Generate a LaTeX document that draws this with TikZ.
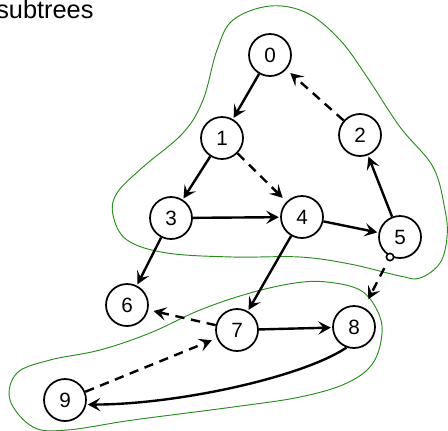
\documentclass[tikz,border=0pt]{standalone}
\usepackage{fontspec}
\setmainfont{Liberation Sans}
\usetikzlibrary{arrows.meta, positioning}

\definecolor{hullgreen}{RGB}{40,140,30}

\begin{document}
\begin{tikzpicture}[
    x=0.75pt, y=-0.75pt,
    vertex/.style={circle, draw, line width=1.3pt, minimum size=31.5pt, inner sep=0pt, fill=white, font=\fontsize{15.5}{18}\selectfont},
    hole/.style={circle, draw, line width=1.2pt, minimum size=5.5pt, inner sep=0pt, fill=white},
    hull/.style={draw=hullgreen, line width=0.7pt},
    tree/.style={-{Stealth[length=9.5pt, width=10pt, inset=4pt]}, line width=1.8pt, shorten >=1pt},
    back/.style={tree, dash pattern=on 7pt off 5pt, shorten >=4pt}
]
\useasboundingbox (0,0) rectangle (448,430);

% Caption
\node[anchor=base west, inner sep=0pt, font=\fontsize{19}{22}\selectfont] (title) at (-4,18) {subtrees};

% Subtree outlines
\draw[hull] plot[smooth cycle, tension=0.6] coordinates {
    (270,6) (233,20) (217,50) (203,100) (183,133) (143,167) (117,193)
    (113,215) (127,240) (167,253) (233,257) (300,257) (350,264) (400,276)
    (420,278) (440,263) (447,237) (445,210) (433,167) (400,127) (367,77)
    (340,40) (307,13)};
\draw[hull] plot[smooth cycle, tension=0.6] coordinates {
    (327,282) (360,290) (377,310) (382,333) (373,363) (347,383) (300,397)
    (233,407) (133,420) (67,430) (33,427) (10,400) (17,373) (50,360)
    (100,350) (150,333) (200,310) (250,293) (295,283)};

% Vertices
\node[vertex] (n0) at (270,55) {0};
\node[vertex] (n1) at (222,138) {1};
\node[vertex] (n2) at (360,135) {2};
\node[vertex] (n3) at (171,218) {3};
\node[vertex] (n4) at (302,217) {4};
\node[vertex] (n5) at (400,237) {5};
\node[vertex] (n6) at (127,305) {6};
\node[vertex] (n7) at (237,330) {7};
\node[vertex] (n8) at (354,327) {8};
\node[vertex] (n9) at (65,400) {9};
\node[hole] (h5) at (390,257) {};

% Tree edges
\draw[tree] (n0) -- (n1);
\draw[tree] (n1) -- (n3);
\draw[tree] (n3) -- (n4);
\draw[tree] (n4) -- (n5);
\draw[tree] (n5) -- (n2);
\draw[tree] (n3) -- (n6);
\draw[tree] (n4) -- (n7);
\draw[tree] (n7) -- (n8);
\draw[tree] (n8.250) .. controls +(-45,30) and +(90,0) .. (n9.-12);

% Dashed edges
\draw[back] (n2) -- (n0);
\draw[back] (n1) -- (n4);
\draw[back] (n7) -- (n6);
\draw[back] (n9) -- (n7);
\draw[back, shorten <=6pt, shorten >=7pt] (h5) -- (n8);

\end{tikzpicture}
\end{document}
